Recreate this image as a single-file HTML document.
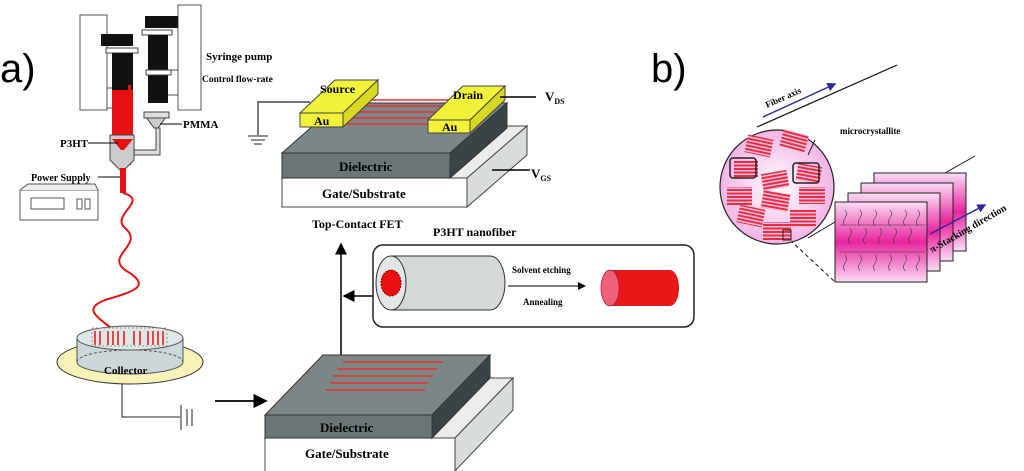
<!DOCTYPE html>
<html><head><meta charset="utf-8"><style>
body{margin:0;background:#fff}
svg{display:block;font-family:"Liberation Serif",serif;font-weight:bold}
</style></head><body>
<svg width="1024" height="471" viewBox="0 0 1024 471" xmlns="http://www.w3.org/2000/svg">
<defs>
<linearGradient id="pk" x1="0" y1="0" x2="0" y2="1">
<stop offset="0" stop-color="#fadcf4"/><stop offset="0.5" stop-color="#e8259e"/><stop offset="1" stop-color="#fadcf4"/></linearGradient>
<radialGradient id="cg" cx="0.5" cy="0.5" r="0.5"><stop offset="0" stop-color="#fff"/><stop offset="1" stop-color="#f3b4e6"/></radialGradient>
<pattern id="st" width="6" height="3.5" patternUnits="userSpaceOnUse"><rect width="6" height="3.5" fill="#fbe"/><rect y="0" width="6" height="2" fill="#e8303a"/></pattern>
<marker id="ar" markerWidth="8" markerHeight="8" refX="7" refY="4" orient="auto"><path d="M0,0 L8,4 L0,8 Z" fill="#000"/></marker>
<marker id="ab" markerWidth="6" markerHeight="6" refX="5" refY="3" orient="auto"><path d="M0,0 L6,3 L0,6 Z" fill="#2a2a9a"/></marker>
</defs>
<text x="0" y="82" font-family="Liberation Sans,sans-serif" font-weight="normal" font-size="40">a)</text>
<text x="651" y="82" font-family="Liberation Sans,sans-serif" font-weight="normal" font-size="40">b)</text>

<!-- syringe pump -->
<g stroke="#555" stroke-width="1">
<rect x="80" y="15" width="27" height="95" fill="#fff"/>
<rect x="178" y="5" width="23" height="105" fill="#fff"/>
<rect x="107" y="88" width="8" height="20" fill="#fff"/>
<rect x="166" y="70" width="12" height="25" fill="#fff"/>
</g>
<rect x="101" y="34" width="32" height="12" fill="#111"/>
<rect x="106" y="48" width="32" height="5" fill="#fff" stroke="#444"/>
<rect x="112" y="53" width="21" height="88" fill="#111"/>
<rect x="112" y="90" width="21" height="45" fill="#e81010"/>
<rect x="128" y="85" width="3" height="80" fill="#e81010"/>
<rect x="145" y="16" width="33" height="12" fill="#111"/>
<rect x="142" y="30" width="30" height="5" fill="#fff" stroke="#444"/>
<rect x="148" y="35" width="20" height="68" fill="#111"/>
<rect x="146" y="70" width="25" height="5" fill="#fff" stroke="#444"/>
<path d="M146,117 L166,117 L158,128 L154,128 Z" fill="#ccc" stroke="#444"/>
<rect x="144" y="112" width="25" height="6" fill="#ddd" stroke="#444"/>
<path d="M110,135 L134,135 L134,160 L124,170 L120,170 L110,160 Z" fill="#ccc" stroke="#444"/>
<path d="M112,139 L133,139 L124,150 L121,150 Z" fill="#e81010"/>
<path d="M134,150 L156,150 L156,128 L160,128 L160,155 L134,155 Z" fill="#ddd" stroke="#444"/>
<rect x="120" y="168" width="6" height="25" fill="#e81010"/>
<text x="60" y="147" font-size="11">P3HT</text><line x1="88" y1="143" x2="118" y2="143" stroke="#000"/>
<text x="183" y="128" font-size="11">PMMA</text><line x1="160" y1="124" x2="182" y2="124" stroke="#000"/>
<text x="31" y="181" font-size="10">Power Supply</text><line x1="98" y1="177" x2="120" y2="177" stroke="#000"/>
<text x="206" y="60" font-size="11">Syringe pump</text>
<text x="202" y="82" font-size="9.5">Control flow-rate</text>
<rect x="20" y="190" width="78" height="30" fill="#fff" stroke="#555"/>
<path d="M20,190 L28,184 L95,184 L98,190" fill="#eee" stroke="#555"/>
<rect x="31" y="198" width="33" height="11" fill="#fff" stroke="#555"/>
<rect x="77" y="199" width="5" height="10" fill="#fff" stroke="#555"/><rect x="85" y="199" width="5" height="10" fill="#fff" stroke="#555"/>
<path d="M123,193 C150,200 110,215 125,228 C145,245 105,255 125,270 C150,285 140,290 105,300 C80,310 100,318 120,335" fill="none" stroke="#e81010" stroke-width="2"/>
<!-- collector -->
<ellipse cx="130" cy="362" rx="73" ry="22" fill="#f6f2b8" stroke="#333"/>
<path d="M77,338 L77,362 A53,12 0 0 0 183,362 L183,338 Z" fill="#ccd8d8" stroke="#555"/>
<ellipse cx="130" cy="338" rx="53" ry="12" fill="#dfe8e8" stroke="#555"/>
<path d="M77,362 A53,12 0 0 1 183,362" fill="none" stroke="#555" stroke-dasharray="3,2"/>
<g stroke="#e81010" stroke-width="1.5"><line x1="95" y1="331" x2="95" y2="345"/><line x1="100" y1="331" x2="100" y2="345"/><line x1="108" y1="331" x2="108" y2="345"/><line x1="113" y1="331" x2="113" y2="345"/><line x1="118" y1="331" x2="118" y2="345"/><line x1="124" y1="331" x2="124" y2="345"/><line x1="134" y1="331" x2="134" y2="345"/><line x1="140" y1="331" x2="140" y2="345"/><line x1="148" y1="331" x2="148" y2="345"/><line x1="153" y1="331" x2="153" y2="345"/><line x1="158" y1="331" x2="158" y2="345"/><line x1="163" y1="331" x2="163" y2="345"/></g>
<rect x="92" y="328" width="75" height="18" fill="none" stroke="#999" stroke-dasharray="2,2"/>
<text x="104" y="374" font-size="11">Collector</text>
<path d="M122,384 L122,417 L180,417" fill="none" stroke="#222"/>
<g stroke="#222"><line x1="181" y1="405" x2="181" y2="430"/><line x1="187" y1="409" x2="187" y2="426"/><line x1="192" y1="409" x2="192" y2="426"/></g>
<line x1="215" y1="401" x2="266" y2="401" stroke="#000" stroke-width="1.8" marker-end="url(#ar)"/>

<!-- Top FET -->
<path d="M282,178 L342,126 L527,126 L467,178 Z" fill="#ececec" stroke="#444"/>
<rect x="282" y="178" width="185" height="29" fill="#fff" stroke="#444"/>
<path d="M467,178 L527,126 L527,155 L467,207 Z" fill="#d8dcdc" stroke="#444"/>
<path d="M282,153 L339,103 L507,103 L450,153 Z" fill="#7b8786" stroke="#333"/>
<rect x="282" y="153" width="168" height="25" fill="#6a7675" stroke="#333"/>
<path d="M450,153 L507,103 L507,128 L450,178 Z" fill="#3b4444" stroke="#333"/>
<g stroke="#e83030" stroke-width="1.5"><line x1="350" y1="100" x2="450" y2="100"/><line x1="345" y1="106" x2="445" y2="106"/><line x1="345" y1="112" x2="440" y2="112"/><line x1="345" y1="118" x2="435" y2="118"/><line x1="345" y1="124" x2="430" y2="124"/></g>
<path d="M300,113 L335,80 L378,80 L343,113 Z" fill="#f2f23a" stroke="#444"/>
<rect x="300" y="113" width="43" height="14" fill="#f2f23a" stroke="#444"/>
<path d="M343,113 L378,80 L378,94 L343,127 Z" fill="#d8d820" stroke="#444"/>
<path d="M428,120 L463,86 L505,86 L470,120 Z" fill="#f2f23a" stroke="#444"/>
<rect x="428" y="120" width="42" height="13" fill="#f2f23a" stroke="#444"/>
<path d="M470,120 L505,86 L505,100 L470,133 Z" fill="#d8d820" stroke="#444"/>
<text x="320" y="93" font-size="12">Source</text><text x="314" y="125" font-size="12">Au</text>
<text x="453" y="99" font-size="12">Drain</text><text x="442" y="131" font-size="12">Au</text>
<path d="M310,102 L258,102 L258,135" fill="none" stroke="#222" stroke-width="1.2"/>
<g stroke="#222"><line x1="248" y1="136" x2="268" y2="136"/><line x1="251" y1="140" x2="265" y2="140"/><line x1="254" y1="144" x2="262" y2="144"/></g>
<line x1="500" y1="97" x2="536" y2="97" stroke="#000" stroke-width="1.5"/>
<text x="545" y="101" font-size="13">V<tspan font-size="8" dy="3">DS</tspan></text>
<line x1="492" y1="170" x2="530" y2="170" stroke="#000" stroke-width="1.5"/>
<text x="531" y="178" font-size="13">V<tspan font-size="8" dy="3">GS</tspan></text>
<text x="339" y="171" font-size="13">Dielectric</text>
<text x="322" y="198" font-size="13">Gate/Substrate</text>
<text x="312" y="228" font-size="12">Top-Contact FET</text>

<!-- arrows -->
<line x1="341" y1="356" x2="341" y2="244" stroke="#000" stroke-width="1.5" marker-end="url(#ar)"/>
<line x1="373" y1="296" x2="344" y2="296" stroke="#000" stroke-width="1.5" marker-end="url(#ar)"/>

<!-- capsule box -->
<text x="433" y="236" font-size="12">P3HT nanofiber</text>
<rect x="373" y="245" width="321" height="82" rx="10" fill="#fff" stroke="#222" stroke-width="1.5"/>
<path d="M391,256 L490,256 A15,27 0 0 1 490,310 L391,310 Z" fill="#d4d8d8" stroke="#333"/>
<ellipse cx="391" cy="283" rx="15" ry="27" fill="#e2e6e6" stroke="#333"/>
<ellipse cx="391" cy="283" rx="10" ry="13" fill="#e81010" stroke="#900" stroke-dasharray="2,1"/>
<line x1="508" y1="286" x2="585" y2="286" stroke="#000" marker-end="url(#ar)"/>
<text x="512" y="273" font-size="9">Solvent etching</text>
<text x="523" y="305" font-size="9">Annealing</text>
<path d="M610,270 L670,270 L670,306 L610,306 Z" fill="#e81818"/>
<ellipse cx="670" cy="288" rx="9" ry="18" fill="#e81818"/>
<ellipse cx="610" cy="288" rx="9" ry="18" fill="#f0607a" stroke="#b02040" stroke-width="0.8"/>

<!-- bottom device -->
<path d="M265,438 L323,378 L513,378 L455,438 Z" fill="#ececec" stroke="#444"/>
<rect x="265" y="438" width="190" height="35" fill="#fff" stroke="#444"/>
<path d="M455,438 L513,378 L513,410 L455,471 Z" fill="#d8dcdc" stroke="#444"/>
<path d="M265,415 L323,355 L490,355 L432,415 Z" fill="#7b8786" stroke="#333"/>
<rect x="265" y="415" width="167" height="23" fill="#6a7675" stroke="#333"/>
<path d="M432,415 L490,355 L490,378 L432,438 Z" fill="#3b4444" stroke="#333"/>
<g stroke="#e83030" stroke-width="1.5"><line x1="343" y1="362" x2="443" y2="362"/><line x1="337" y1="369" x2="437" y2="369"/><line x1="333" y1="376" x2="433" y2="376"/><line x1="330" y1="383" x2="428" y2="383"/><line x1="326" y1="390" x2="425" y2="390"/></g>
<text x="320" y="432" font-size="13">Dielectric</text>
<text x="305" y="458" font-size="13">Gate/Substrate</text>

<!-- b) -->
<line x1="757" y1="127" x2="897" y2="65" stroke="#111" stroke-width="1.2"/>
<line x1="763" y1="117" x2="835" y2="84" stroke="#2a2a9a" stroke-width="1.5" marker-end="url(#ab)"/>
<text x="767" y="108" font-size="9" transform="rotate(-24 767 108)">Fiber axis</text>
<line x1="945" y1="173" x2="975" y2="156" stroke="#111"/>
<g stroke="#222">
<rect x="874" y="173" width="92" height="78" fill="url(#pk)"/>
<rect x="861" y="183" width="92" height="78" fill="url(#pk)"/>
<rect x="848" y="193" width="92" height="78" fill="url(#pk)"/>
<rect x="835" y="202" width="92" height="80" fill="url(#pk)"/>
</g>
<g stroke="#333" stroke-width="0.6" fill="none">
<path d="M840,225 L925,225 M840,252 L925,252"/>
<path d="M845,210 q3,4 0,8 q-3,4 0,8 M860,210 q3,4 0,8 q-3,4 0,8 M875,210 q3,4 0,8 q-3,4 0,8 M890,210 q3,4 0,8 q-3,4 0,8 M905,210 q3,4 0,8 q-3,4 0,8 M918,210 q3,4 0,8 q-3,4 0,8"/>
<path d="M850,228 q3,4 0,8 q-3,4 0,8 M865,228 q3,4 0,8 q-3,4 0,8 M880,228 q3,4 0,8 q-3,4 0,8 M895,228 q3,4 0,8 q-3,4 0,8 M910,228 q3,4 0,8 q-3,4 0,8"/>
<path d="M845,255 q3,4 0,8 q-3,4 0,8 M860,255 q3,4 0,8 q-3,4 0,8 M875,255 q3,4 0,8 q-3,4 0,8 M890,255 q3,4 0,8 q-3,4 0,8 M905,255 q3,4 0,8 q-3,4 0,8 M918,255 q3,4 0,8 q-3,4 0,8"/>
</g>
<line x1="930" y1="234" x2="985" y2="205" stroke="#2a2a9a" stroke-width="1.5" marker-end="url(#ab)"/>
<text x="932" y="253" font-size="10" transform="rotate(-30 932 253)">π-Stacking direction</text>
<line x1="808" y1="238" x2="835" y2="222" stroke="#111"/>
<line x1="790" y1="240" x2="835" y2="282" stroke="#111" stroke-dasharray="4,3"/>
<circle cx="777" cy="187" r="57" fill="url(#cg)" stroke="#222" stroke-width="1.2"/>
<g fill="url(#st)">
<rect x="746" y="137" width="26" height="18" transform="rotate(12 759 146)"/>
<rect x="781" y="132" width="26" height="18" transform="rotate(15 794 141)"/>
<rect x="734" y="160" width="24" height="17"/>
<rect x="762" y="172" width="26" height="17" transform="rotate(-10 775 180)"/>
<rect x="797" y="165" width="24" height="17" transform="rotate(10 809 173)"/>
<rect x="727" y="187" width="25" height="18"/>
<rect x="762" y="192" width="27" height="18" transform="rotate(10 775 201)"/>
<rect x="799" y="187" width="26" height="17"/>
<rect x="738" y="207" width="26" height="18" transform="rotate(12 751 216)"/>
<rect x="790" y="210" width="26" height="17"/>
<rect x="763" y="222" width="28" height="18"/>
</g>
<rect x="730" y="158" width="26" height="20" rx="3" fill="none" stroke="#222" stroke-width="1.5"/>
<rect x="793" y="163" width="26" height="20" rx="3" fill="none" stroke="#222" stroke-width="1.5"/>
<rect x="783" y="230" width="8" height="10" fill="none" stroke="#222"/>
<line x1="815" y1="140" x2="808" y2="155" stroke="#222"/>
<text x="840" y="134" font-size="9">microcrystallite</text>
</svg>
</body></html>
